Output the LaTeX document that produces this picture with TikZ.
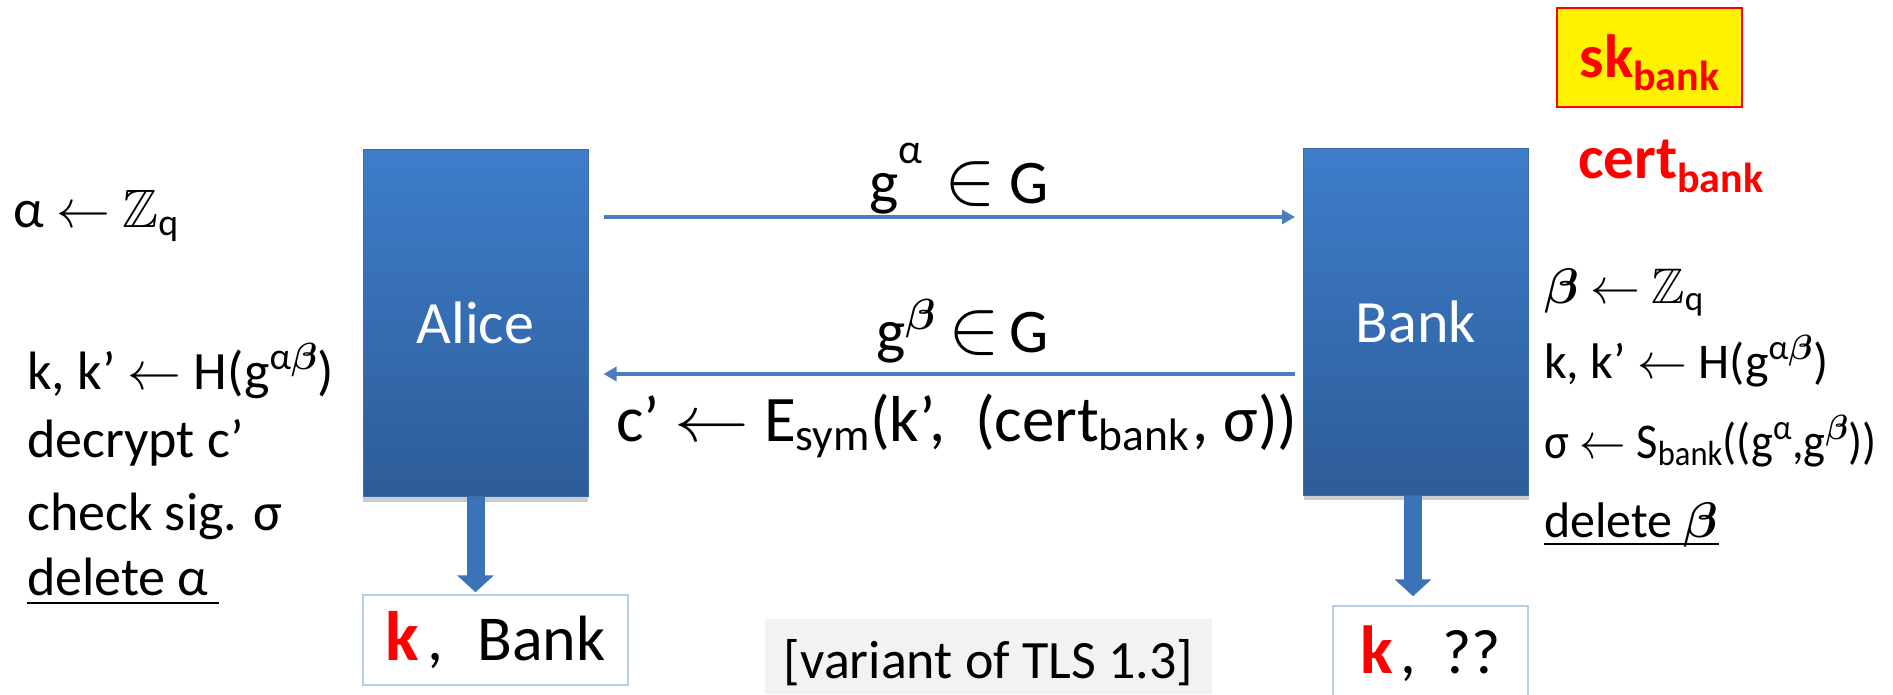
\RequirePackage{fix-cm}
\documentclass[tikz,border=0pt]{standalone}
\usepackage{amsmath,amssymb}
\usepackage{graphicx}
\usepackage{fontspec}
\setmainfont{Carlito}
\usetikzlibrary{arrows.meta,shadows,calc}
\definecolor{boxtop}{HTML}{3E7DCB}
\definecolor{boxbot}{HTML}{2D5C98}
\definecolor{boxedge}{HTML}{3A6CA8}
\definecolor{msgblue}{HTML}{4A7EBB}
\definecolor{downblue}{HTML}{3B73B9}
\definecolor{outedge}{HTML}{B9CDE6}
\definecolor{graybg}{HTML}{F2F2F2}
\newcommand\fs[1]{\fontsize{#1}{#1}\selectfont}
\newcommand\bbeta{\boldsymbol{\beta}}
\newcommand\larr{\scalebox{1.15}[1]{$\leftarrow$}}
\newcommand\bigin{\scalebox{1.25}{$\in$}}
\begin{document}
\begin{tikzpicture}[x=1pt,y=-1pt,
  party/.style={draw=boxedge, line width=1pt, top color=boxtop, bottom color=boxbot,
    minimum width=225pt, minimum height=347pt, inner sep=0pt, text=white, font=\fs{60},
    drop shadow={shadow xshift=0pt, shadow yshift=-5pt, opacity=0.2, fill=black}},
  msg/.style={draw=msgblue, line width=4pt, -{Triangle[length=13pt,width=14pt]}},
  down/.style={draw=downblue, line width=18pt, -{Triangle[length=17pt,width=36pt]}},
  outbox/.style={draw=outedge, line width=1.5pt, fill=white, inner sep=0pt},
  lab/.style={inner sep=0pt, anchor=base west},
  lefttxt/.style={lab, font=\fs{54}},
  righttxt/.style={lab, font=\fs{50}},
  msgtxt/.style={lab, font=\fs{62}}]
\useasboundingbox (0,0) rectangle (1893,694);

% parties
\node[party] (alice) at (475.5,323) {Alice};
\node[party] (bank) at (1416,321.5) {Bank};

% outputs
\node[outbox, minimum width=265pt, minimum height=90pt, font=\fs{64}] (kb) at (495.5,640)
  {\textcolor{red}{\fs{70}\bfseries k}\hspace{8pt},\hspace{34pt}Bank};
\node[outbox, minimum width=195pt, minimum height=91pt, text height=44pt, text depth=0pt, font=\fs{63}] (ks) at (1430.5,651.5)
  {\textcolor{red}{\fs{68}\bfseries k}\hspace{8pt},\hspace{26pt}??};
\node[fill=graybg, minimum width=447pt, minimum height=75pt, inner sep=0pt, text height=44pt, text depth=0pt, font=\fs{54}] (tls) at (988.5,656.5)
  {[variant of TLS 1.3]};

% keys
\node[draw=red, line width=2pt, fill=yellow, minimum width=185pt, minimum height=99pt, inner sep=0pt,
  text height=39pt, text depth=0pt, font=\fs{61}\bfseries, text=red] (sk) at (1649.5,57.5)
  {sk\raisebox{-13pt}{\fs{42}bank}};
\node[lab, text=red, font=\fs{61}\bfseries] (cert) at (1578,178) {cert\raisebox{-14pt}{\fs{42}bank}};

% messages
\coordinate (m1) at (0,217);
\coordinate (m2) at (0,374);
\draw[msg] ($(alice.east |- m1)+(15,0)$) -- ($(bank.west |- m1)+(-8,0)$);
\draw[msg] ($(bank.west |- m2)+(-8,0)$) -- ($(alice.east |- m2)+(15,0)$);
\node[msgtxt] (ga) at (869,203) {g\raisebox{40pt}{\fs{42}α}\hspace{22pt}\bigin\hspace{14pt}G};
\node[msgtxt] (gb) at (876,352) {g\textsuperscript{$\bbeta$}\hspace{12pt}\bigin\hspace{10pt}G};
\node[msgtxt, font=\fs{65}] (cm) at (616,441) {c’ \larr\ E\textsubscript{sym}(k’,\ \ (cert\textsubscript{bank}\hspace{3pt}, σ))};

% down arrows
\draw[down] (alice.south) -- ($(alice.south |- kb.north)+(0,-2)$);
\draw[down] ($(bank.south)+(-3,0)$) -- ($(bank.south |- ks.north)+(-3,-9)$);

% Alice side
\node[lefttxt] (la1) at (13,227) {α $\leftarrow$ $\mathbb{Z}$\textsubscript{q}};
\node[lefttxt] (la2) at (27,389) {k, k’ $\leftarrow$ H(g\textsuperscript{α$\bbeta$})};
\node[lefttxt] (la3) at (27,457) {decrypt c’};
\node[lefttxt] (la4) at (27,530) {check sig. σ};
\node[lefttxt] (la5) at (27,595) {\underline{delete α\hspace{10pt}}};

% Bank side
\node[righttxt] (rb1) at (1544,303) {$\bbeta$ $\leftarrow$ $\mathbb{Z}$\textsubscript{q}};
\node[righttxt] (rb2) at (1544,378) {k, k’ $\leftarrow$ H(g\textsuperscript{α$\bbeta$})};
\node[righttxt] (rb3) at (1544,458) {\scalebox{0.93}[1]{σ $\leftarrow$ S\textsubscript{bank}((g\textsuperscript{α},g\textsuperscript{$\bbeta$}))}};
\node[righttxt] (rb4) at (1544,537) {\underline{delete \smash{$\bbeta$}}};
\end{tikzpicture}
\end{document}
